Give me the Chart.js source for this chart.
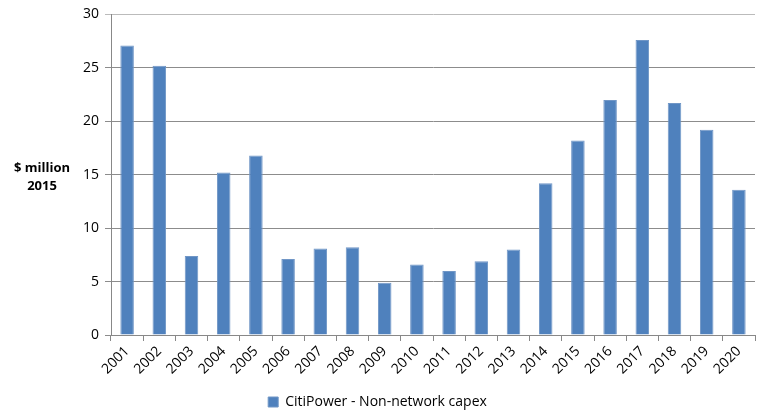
<!DOCTYPE html>
<html>
<head>
<meta charset="utf-8">
<script src="https://cdn.jsdelivr.net/npm/chart.js@4"></script>
<style>
  html, body { margin: 0; padding: 0; background: #fff; }
  #wrap { width: 757px; height: 419px; }
</style>
</head>
<body>
<div id="wrap"><canvas id="capexChart" width="757" height="419"></canvas></div>
<script>
const years = ['2001', '2002', '2003', '2004', '2005', '2006', '2007', '2008', '2009', '2010',
               '2011', '2012', '2013', '2014', '2015', '2016', '2017', '2018', '2019', '2020'];
const capex = [27.1, 25.2, 7.4, 15.2, 16.8, 7.1, 8.1, 8.2, 4.9, 6.6,
               6.0, 6.9, 8.0, 14.2, 18.2, 22.0, 27.6, 21.7, 19.2, 13.6];
const seriesName = 'CitiPower - Non-network capex';
const yTitle = ['$ million', '2015'];

const fontFamily = "'Open Sans', 'Liberation Sans', sans-serif";

// horizontal y-axis title to the left of the tick labels
const yTitlePlugin = {
    id: 'yTitle',
    afterDraw(chart) {
        const ctx = chart.ctx;
        ctx.save();
        ctx.font = 'bold 13px ' + fontFamily;
        ctx.fillStyle = '#000';
        ctx.textAlign = 'center';
        ctx.textBaseline = 'middle';
        ctx.fillText(yTitle[0], 42, 168);
        ctx.fillText(yTitle[1], 42, 186);
        ctx.restore();
    }
};

const ctx = document.getElementById('capexChart').getContext('2d');
new Chart(ctx, {
    type: 'bar',
    data: {
        labels: years,
        datasets: [{
            label: seriesName,
            data: capex,
            backgroundColor: '#4F81BD',
            borderColor: '#7096C6',
            borderWidth: 1,
            categoryPercentage: 1,
            barPercentage: 0.42
        }]
    },
    options: {
        responsive: false,
        animation: false,
        layout: { padding: { left: 0, right: 2, top: 6, bottom: 0 } },
        plugins: {
            tooltip: { enabled: false },
            legend: {
                position: 'bottom',
                labels: {
                    boxWidth: 10,
                    boxHeight: 10,
                    color: '#000',
                    font: { family: fontFamily, size: 14 },
                    padding: 2
                }
            }
        },
        scales: {
            x: {
                offset: true,
                grid: {
                    offset: true,
                    drawOnChartArea: false,
                    color: '#888',
                    tickLength: 6
                },
                border: { color: '#888' },
                ticks: {
                    color: '#000',
                    font: { family: fontFamily, size: 14 },
                    minRotation: 45,
                    maxRotation: 45,
                    padding: 2
                },
                afterFit(scale) { scale.height = 58; }
            },
            y: {
                min: 0,
                max: 30,
                ticks: {
                    stepSize: 5,
                    color: '#000',
                    font: { family: fontFamily, size: 14 },
                    padding: 6
                },
                grid: {
                    color: c => c.tick && c.tick.value === 30 ? '#bbb' : '#8c8c8c',
                    tickLength: 6
                },
                border: { color: '#888' },
                afterFit(scale) { scale.width = 111; }
            }
        }
    },
    plugins: [yTitlePlugin]
});
</script>
</body>
</html>
